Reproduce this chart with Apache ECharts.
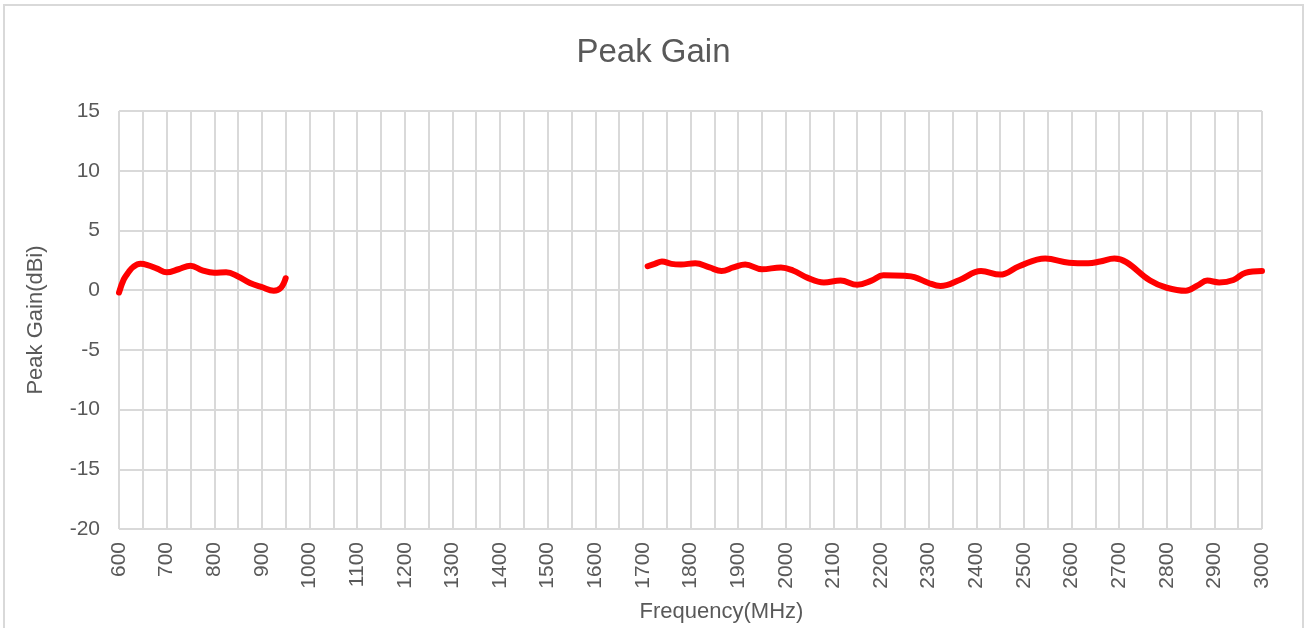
<!DOCTYPE html>
<html>
<head>
<meta charset="utf-8">
<script src="https://cdn.jsdelivr.net/npm/echarts@6/dist/echarts.min.js"></script>
<style>
html,body{margin:0;padding:0;background:#fff;overflow:hidden;}
#chart{width:1307px;height:628px;}
</style>
</head>
<body>
<div id="chart"></div>
<script>
// Frequency (MHz) and peak gain (dBi), low band
const lowFreq = [600, 610, 620, 630, 645, 660, 680, 700, 725, 750, 775, 800, 825, 850, 875, 900, 925, 940, 950];
const lowGain = [-0.2, 0.9, 1.5, 1.95, 2.2, 2.1, 1.8, 1.5, 1.75, 2.05, 1.65, 1.45, 1.5, 1.15, 0.6, 0.25, -0.05, 0.2, 1.0];
// high band
const highFreq = [1710, 1725, 1740, 1760, 1780, 1810, 1840, 1865, 1890, 1915, 1950, 1990, 2015, 2045, 2080, 2115, 2150, 2180, 2205, 2250, 2270, 2300, 2325, 2365, 2410, 2450, 2490, 2545, 2595, 2635, 2660, 2690, 2715, 2765, 2800, 2840, 2865, 2885, 2910, 2940, 2965, 3000];
const highGain = [2.0, 2.2, 2.4, 2.2, 2.15, 2.25, 1.9, 1.6, 1.9, 2.15, 1.75, 1.9, 1.65, 1.05, 0.65, 0.8, 0.45, 0.8, 1.25, 1.2, 1.1, 0.6, 0.35, 0.85, 1.6, 1.3, 2.0, 2.65, 2.3, 2.25, 2.4, 2.65, 2.35, 0.8, 0.2, -0.05, 0.4, 0.8, 0.65, 0.85, 1.45, 1.6];

const titleText = 'Peak Gain';
const xName = 'Frequency(MHz)';
const yName = 'Peak Gain(dBi)';

const pair = (xs, ys) => xs.map((x, i) => [x, ys[i]]);
const txt = '#595959';
const grid = '#d9d9d9';
const font = 'Liberation Sans';

const chart = echarts.init(document.getElementById('chart'));
const lineStyle = { color: '#ff0000', width: 6, cap: 'round', join: 'round' };
chart.setOption({
  animation: false,
  backgroundColor: '#fff',
  graphic: [{
    type: 'rect', shape: { x: 4, y: 5, width: 1299, height: 640 },
    style: { fill: 'none', stroke: grid, lineWidth: 2 }, silent: true
  }],
  title: {
    text: titleText, left: 'center', top: 31,
    textStyle: { color: txt, fontSize: 33, fontWeight: 'normal', fontFamily: font }
  },
  grid: { left: 119, width: 1143, top: 111, height: 420, containLabel: false },
  xAxis: {
    type: 'value', min: 600, max: 3000, interval: 50,
    name: xName, nameLocation: 'middle', nameGap: 72,
    nameTextStyle: { color: txt, fontSize: 22, fontFamily: font, padding: [0, 0, 0, 62] },
    axisLine: { show: true, lineStyle: { color: grid, width: 2 } },
    axisTick: { show: false },
    splitLine: { show: true, lineStyle: { color: grid, width: 2 } },
    axisLabel: {
      rotate: 90, margin: 13, color: txt, fontSize: 21, fontFamily: font,
      formatter: v => (v % 100 === 0 ? String(v) : '')
    }
  },
  yAxis: {
    type: 'value', min: -20, max: 15, interval: 5,
    name: yName, nameLocation: 'middle', nameGap: 72, nameRotate: 90,
    nameTextStyle: { color: txt, fontSize: 22, fontFamily: font },
    axisLine: { show: false }, axisTick: { show: false },
    splitLine: { show: true, lineStyle: { color: grid, width: 2 } },
    axisLabel: { margin: 19, color: txt, fontSize: 21, fontFamily: font }
  },
  series: [
    { type: 'line', name: 'Peak Gain', data: pair(lowFreq, lowGain), smooth: 0.4, showSymbol: false, lineStyle: lineStyle, z: 3 },
    { type: 'line', name: 'Peak Gain', data: pair(highFreq, highGain), smooth: 0.4, showSymbol: false, lineStyle: lineStyle, z: 3 }
  ]
});
</script>
</body>
</html>
